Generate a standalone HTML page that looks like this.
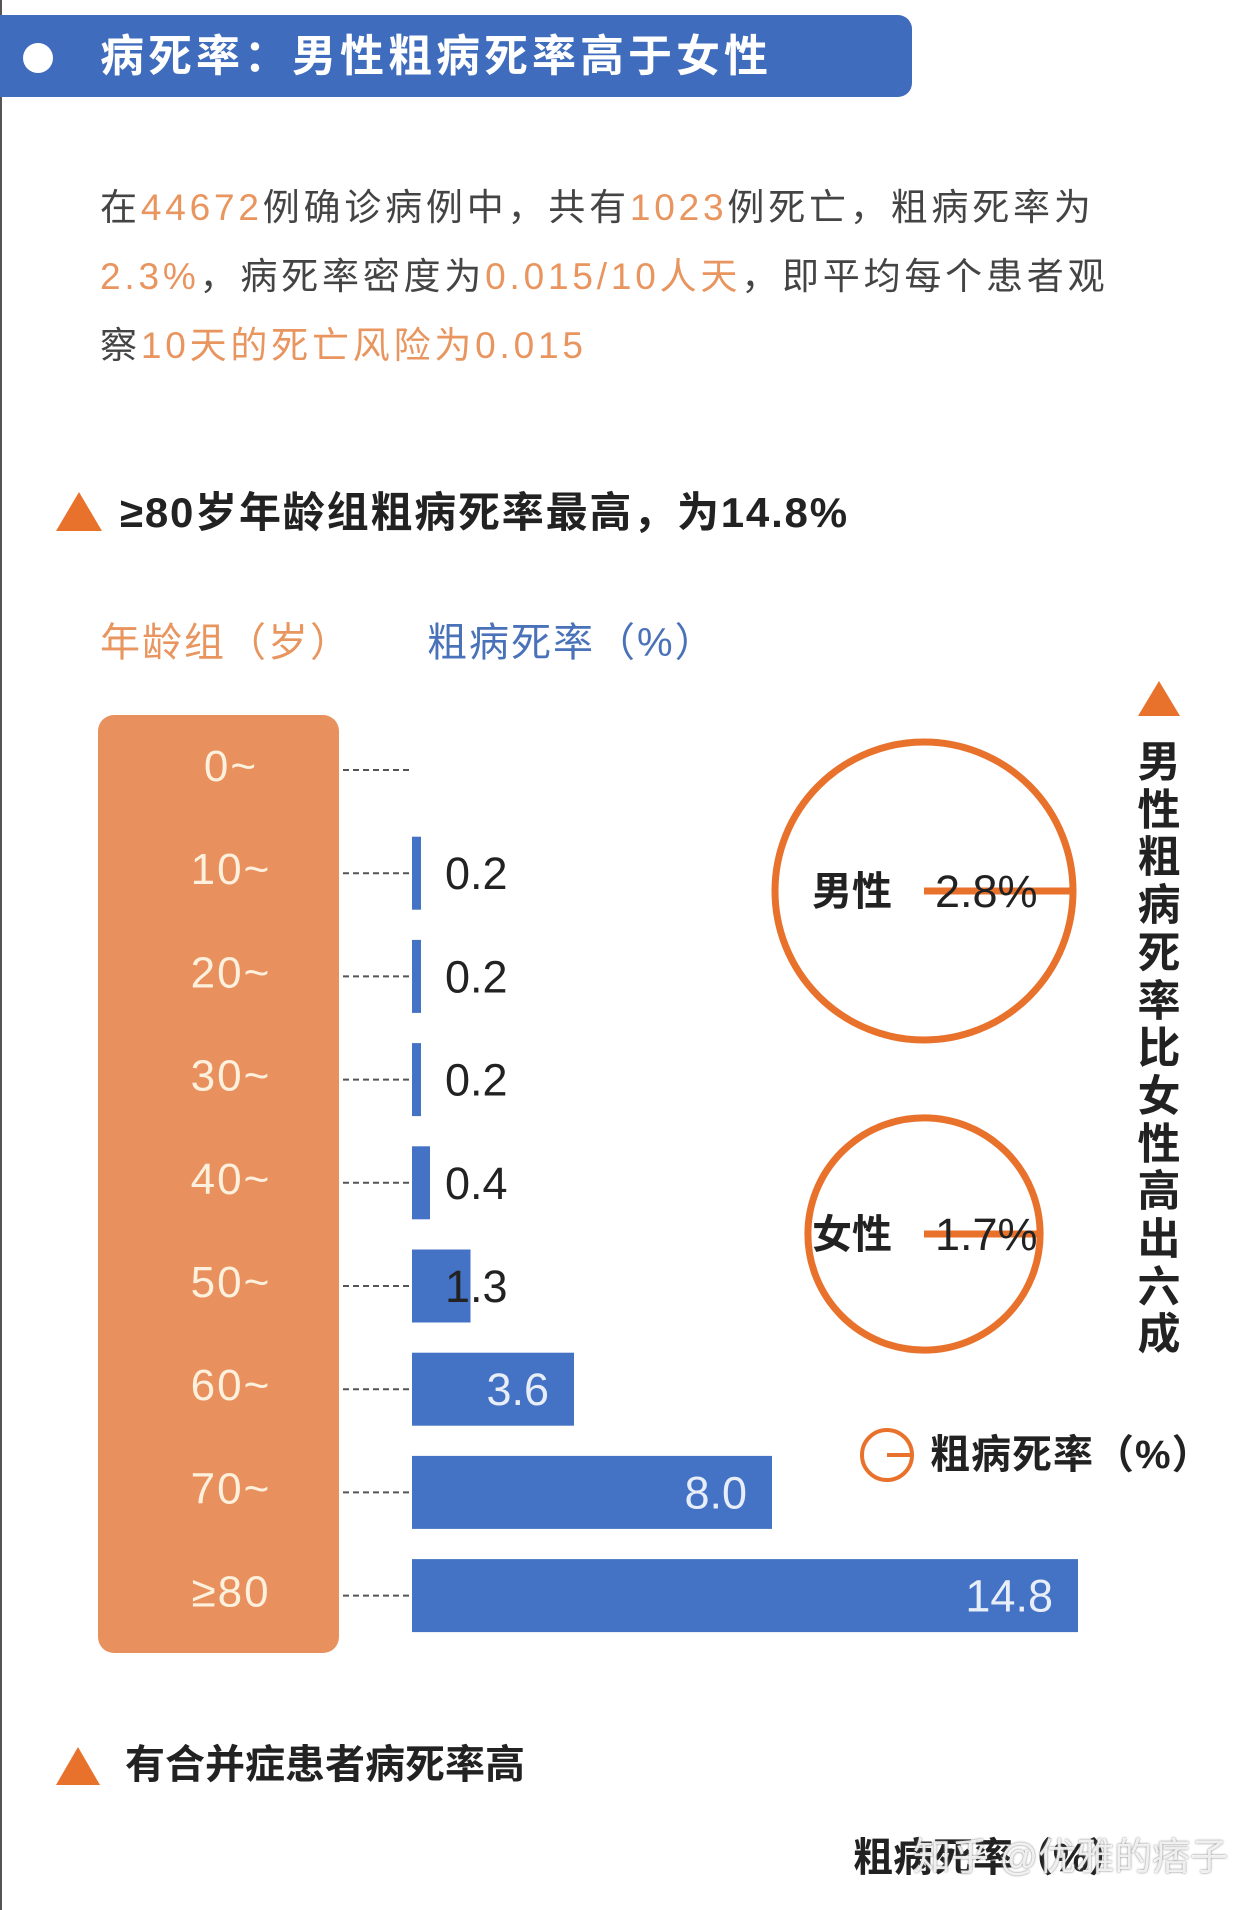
<!DOCTYPE html>
<html><head><meta charset="utf-8">
<style>
body{margin:0;width:1242px;height:1910px;background:#fff;overflow:hidden;position:relative;font-family:"Liberation Sans","Noto Sans CJK SC",sans-serif;}
.a{position:absolute;white-space:nowrap;}
.o{color:#e8955f;}
</style></head><body>
<div class="a" style="left:0;top:0;width:2px;height:1910px;background:#555;"></div>
<div class="a" style="left:0;top:15px;width:912px;height:82px;background:#3f6cbd;border-radius:0 14px 14px 0;"></div>
<div class="a" style="left:23px;top:43px;width:30px;height:30px;border-radius:50%;background:#fff;"></div>
<div class="a" style="left:100px;top:30px;font-size:44px;line-height:54px;font-weight:bold;color:#fff;letter-spacing:4px;">病死率：男性粗病死率高于女性</div>
<div class="a" style="left:100px;top:173px;font-size:37px;line-height:69px;color:#444;letter-spacing:3.8px;">
在<span class="o">44672</span>例确诊病例中，共有<span class="o">1023</span>例死亡，粗病死率为<br>
<span class="o">2.3%</span>，病死率密度为<span class="o">0.015/10人天</span>，即平均每个患者观<br>
察<span class="o">10天的死亡风险为0.015</span></div>
<svg class="a" style="left:0;top:0" width="1242" height="1910">
<polygon points="56,531 79,492 102,531" fill="#e8722c"/>
<polygon points="56,1785 78,1747 100,1785" fill="#e8722c"/>
</svg>
<div class="a" style="left:120px;top:487px;font-size:42px;line-height:52px;font-weight:bold;color:#222;letter-spacing:1.8px;">≥80岁年龄组粗病死率最高，为14.8%</div>
<div class="a" style="left:100px;top:618px;font-size:40px;line-height:50px;color:#e8955f;letter-spacing:2px;">年龄组（岁）</div>
<div class="a" style="left:427px;top:618px;font-size:40px;line-height:50px;color:#4a72b8;letter-spacing:2px;">粗病死率（%）</div>
<div class="a" style="left:98px;top:715px;width:241px;height:938px;background:#e8915f;border-radius:16px;"></div>
<svg id="chart" class="a" style="left:0;top:0" width="1242" height="1910"></svg>
<div class="a" style="left:1136px;top:740px;width:46px;font-size:43px;line-height:47.7px;font-weight:bold;color:#222;white-space:normal;text-align:center;">男性粗病死率比女性高出六成</div>
<div class="a" style="left:930px;top:1430px;font-size:40px;line-height:50px;font-weight:bold;color:#222;letter-spacing:1px;">粗病死率（%）</div>
<div class="a" style="left:125px;top:1740px;font-size:40px;line-height:50px;font-weight:bold;color:#222;">有合并症患者病死率高</div>
<div class="a" style="left:853px;top:1833px;font-size:40px;line-height:50px;font-weight:bold;color:#222;">粗病死率（%）</div>
<div class="a" style="left:913px;top:1835px;font-size:38px;line-height:46px;color:rgba(255,255,255,0.85);text-shadow:0 0 2px #777;">知乎 @优雅的痞子</div>
<script>
const ageLabels=["0~","10~","20~","30~","40~","50~","60~","70~","≥80"];
const rates=[0,0.2,0.2,0.2,0.4,1.3,3.6,8.0,14.8];
const sexLabels=["男性","女性"];
const sexRates=[2.8,1.7];
const sexValueText=["2.8%","1.7%"];
const NS="http://www.w3.org/2000/svg";
const svg=document.getElementById('chart');
const x0=412, pxPerUnit=45, rowTop=766, rowStep=103.2, barH=73;
const xs=v=>x0+v*pxPerUnit;
const ys=i=>rowTop+i*rowStep;
function mk(t,attrs){const e=document.createElementNS(NS,t);for(const k in attrs)e.setAttribute(k,attrs[k]);svg.appendChild(e);return e;}
ageLabels.forEach((lab,i)=>{
  const y=ys(i);
  const t=mk('text',{x:231,y:y+15,'text-anchor':'middle','font-size':44,fill:'#fdf0dc','letter-spacing':2,'font-family':'Liberation Sans, Noto Sans CJK SC, sans-serif'});
  t.textContent=lab;
  
  
  const d=mk('line',{x1:343,x2:x0,y1:y+4,y2:y+4,stroke:'#555','stroke-width':2,'stroke-dasharray':'6,4'});
  
  
  const v=rates[i];
  if(v>0){
    const r=mk('rect',{x:x0,y:y+4-barH/2,width:xs(v)-x0,height:barH,fill:'#4472c4'});
    
    
    const inside=v>=2;
    const lt=mk('text',{x:inside?xs(v)-25:445,y:y+20,'text-anchor':inside?'end':'start','font-size':45,fill:inside?'#e8eef8':'#222','font-family':'Liberation Sans, sans-serif'});
    lt.textContent=v.toFixed(1);
    
    
  }
});
const cx=924, cys=[891,1234], rBase=149/Math.sqrt(2.8);
sexRates.forEach((v,i)=>{
  const r=rBase*Math.sqrt(v), cy=cys[i];
  const c=mk('circle',{cx:cx,cy:cy,r:r,fill:'none',stroke:'#e8722c','stroke-width':7});
  
  
  const l=mk('line',{x1:cx,x2:cx+r,y1:cy,y2:cy,stroke:'#e8722c','stroke-width':7});
  
  
  const t1=mk('text',{x:812,y:cy+14,'font-size':40,'font-weight':'bold',fill:'#222','font-family':'Liberation Sans, Noto Sans CJK SC, sans-serif'});
  t1.textContent=sexLabels[i];
  
  
  const t2=mk('text',{x:935,y:cy+16,'font-size':45,fill:'#222','font-family':'Liberation Sans, sans-serif'});
  t2.textContent=sexValueText[i];
  
  
});
const tri=mk('polygon',{points:'1138,716 1159,681 1180,716',fill:'#e8722c'});


const lc=mk('circle',{cx:887,cy:1455,r:25,fill:'none',stroke:'#e8722c','stroke-width':4});


const ll=mk('line',{x1:887,x2:912,y1:1455,y2:1455,stroke:'#e8722c','stroke-width':4});


</script>
</body></html>
